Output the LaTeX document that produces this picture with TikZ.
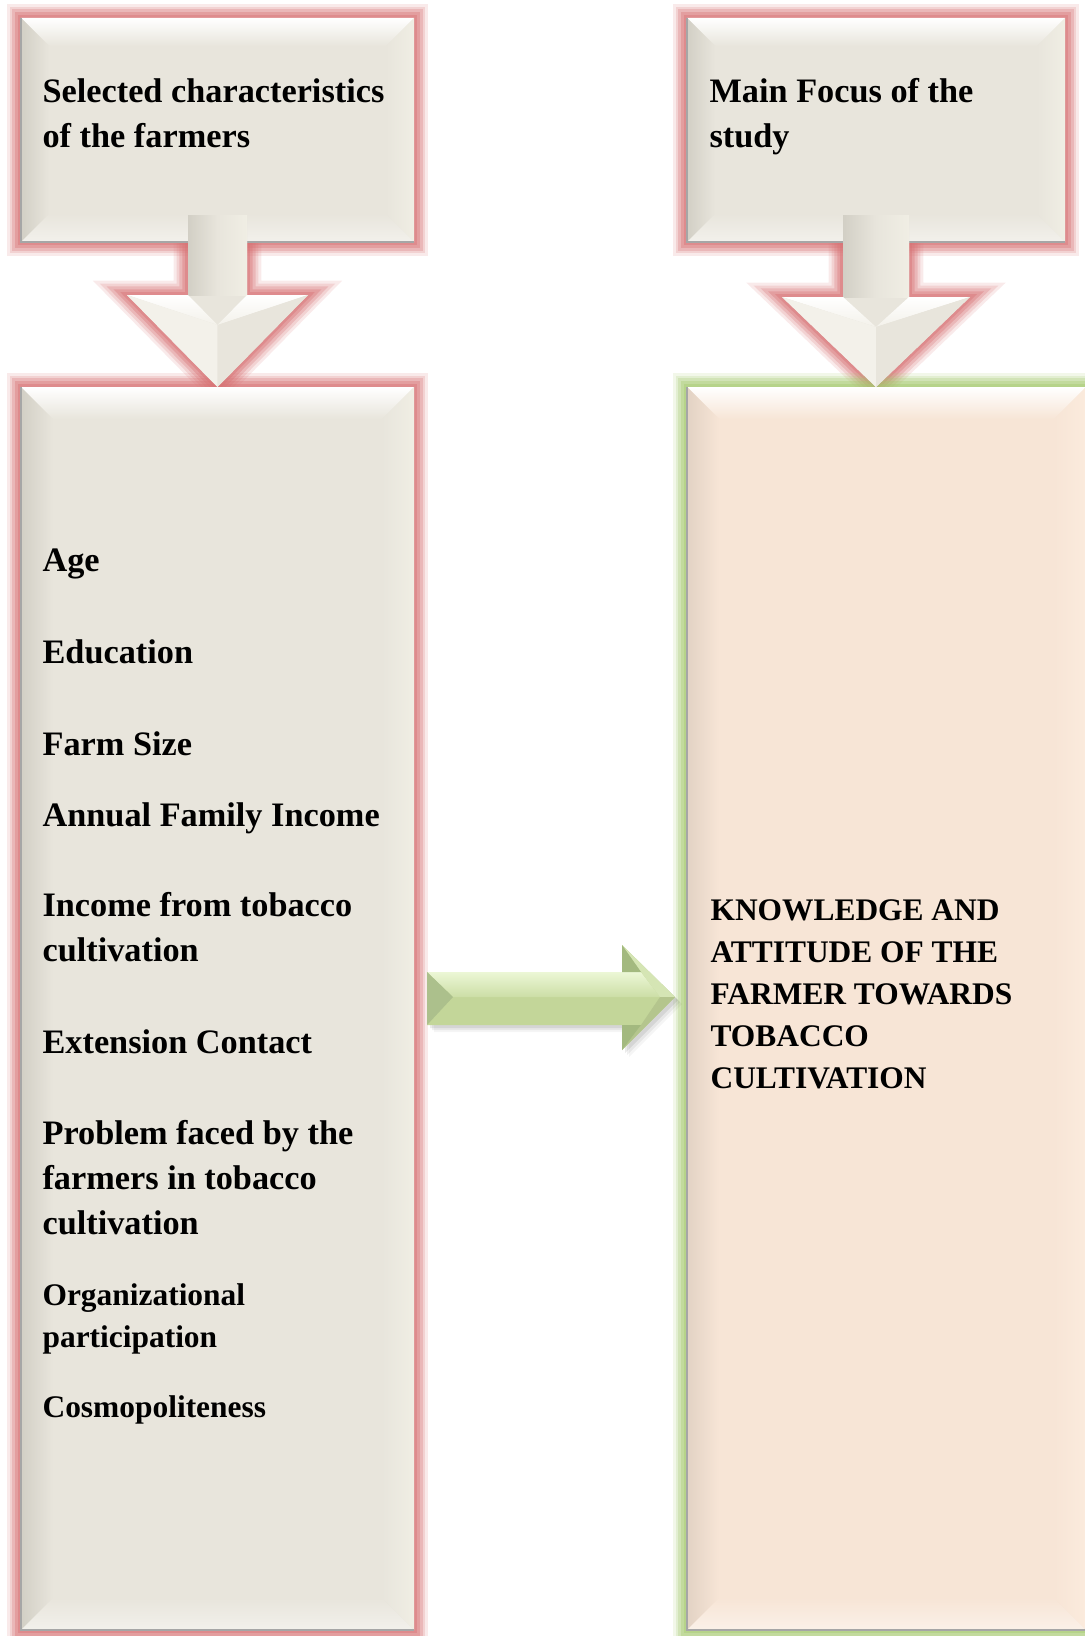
\documentclass[tikz,border=0pt]{standalone}
\usepackage{fontspec}
\setmainfont{Liberation Serif}
\usetikzlibrary{calc}

\definecolor{boxgrey}{RGB}{232,229,220}
\definecolor{bevdark}{RGB}{210,207,197}
\definecolor{bevright}{RGB}{240,238,228}
\definecolor{bevlight}{RGB}{243,241,234}
\definecolor{peach}{RGB}{247,229,214}
\definecolor{peachdark}{RGB}{226,210,196}
\definecolor{peachright}{RGB}{251,235,221}
\definecolor{glowred}{RGB}{214,112,114}
\definecolor{glowgreen}{RGB}{165,200,110}
\definecolor{leaf}{RGB}{195,214,153}
\definecolor{leaflight}{RGB}{236,247,214}
\definecolor{leafmid}{RGB}{204,222,166}
\definecolor{leaffront}{RGB}{213,229,180}
\definecolor{leafdark}{RGB}{163,185,127}

\tikzset{
  glow/.style={line join=round,
    preaction={draw=#1, line width=10pt, draw opacity=.15},
    preaction={draw=#1, line width=8pt, draw opacity=.2},
    preaction={draw=#1, line width=6pt, draw opacity=.28},
    preaction={draw=#1, line width=4pt, draw opacity=.35},
    preaction={draw=#1, line width=2pt, draw opacity=.4}},
  redglow/.style={glow=glowred},
  greenglow/.style={glow=glowgreen},
  item/.style={anchor=base west, inner sep=0pt,
    font=\fontsize{12}{15.75}\selectfont\bfseries},
  small/.style={item, font=\fontsize{11}{15}\selectfont\bfseries},
  result/.style={item, font=\fontsize{11}{14.7}\selectfont\bfseries},
}

% lines of a label, baseline on the first one
\newcommand{\lines}[1]{\begin{tabular}[t]{@{}l@{}}#1\end{tabular}}

% bevelled panel: x0, y0, x1, y1, bevel, face, left bevel, right bevel, glow
\newcommand{\panel}[9]{%
  \fill[#9, #6] (#1,#2) rectangle (#3,#4);
  \shade[top color=white, bottom color=#6] (#1,#2) -- (#3,#2) -- (#3-#5,#2+#5) -- (#1+#5,#2+#5) -- cycle;
  \shade[left color=#7, right color=#6] (#1,#2) -- (#1+#5,#2+#5) -- (#1+#5,#4-#5) -- (#1,#4) -- cycle;
  \shade[left color=#6, right color=#8] (#3,#2) -- (#3-#5,#2+#5) -- (#3-#5,#4-#5) -- (#3,#4) -- cycle;
  \shade[top color=#6, bottom color=#6!55!white] (#1,#4) -- (#1+#5,#4-#5) -- (#3-#5,#4-#5) -- (#3,#4) -- cycle;
  \draw[black!35, line width=.4pt] (#1,#2) -- (#1,#4) -- (#3,#4);
}

% block arrow pointing down: centre, shaft top, shaft half width, head half width, head top, tip
\newcommand{\downpath}[6]{(#1-#3,#2) -- (#1-#3,#5) -- (#1-#4,#5) -- (#1,#6) -- (#1+#4,#5) -- (#1+#3,#5) -- (#1+#3,#2) -- cycle}
\newcommand{\downfaces}[6]{%
  \fill[boxgrey] \downpath{#1}{#2}{#3}{#4}{#5}{#6};
  \shade[left color=bevdark, right color=boxgrey] (#1-#3,#2) -- (#1,#2) -- (#1,#5) -- (#1-#3,#5) -- cycle;
  \shade[left color=boxgrey, right color=bevright] (#1,#2) -- (#1+#3,#2) -- (#1+#3,#5) -- (#1,#5) -- cycle;
  \shade[top color=white, bottom color=bevlight] (#1-#4,#5) -- (#1-#3,#5) -- (#1,#5+30) -- cycle;
  \shade[top color=white, bottom color=bevlight] (#1+#4,#5) -- (#1+#3,#5) -- (#1,#5+30) -- cycle;
  \fill[bevlight] (#1-#4,#5) -- (#1,#5+30) -- (#1,#6) -- cycle;
  \fill[boxgrey] (#1+#4,#5) -- (#1,#5+30) -- (#1,#6) -- cycle;
}

\begin{document}
\begin{tikzpicture}[x=0.35pt, y=-0.35pt]
  \useasboundingbox (0,0) rectangle (1084,1636);

  % glow round the two down arrows, under the panels
  \path[redglow] \downpath{217.5}{215}{29.5}{90.5}{295}{387};
  \path[redglow] \downpath{876}{215}{33}{94}{297}{387};

  % panels
  \panel{21}{18}{414}{242}{28}{boxgrey}{bevdark}{bevright}{redglow}
  \panel{687}{18}{1065}{242}{28}{boxgrey}{bevdark}{bevright}{redglow}
  \panel{21}{387}{414}{1630}{32}{boxgrey}{bevdark}{bevright}{redglow}
  \panel{687}{387}{1086}{1630}{32}{peach}{peachdark}{peachright}{greenglow}

  % down arrows
  \downfaces{217.5}{215}{29.5}{90.5}{295}{387}
  \downfaces{876}{215}{33}{94}{297}{387}

  % arrow between the columns, with its shadow
  \foreach \s/\o in {7/.04,5/.06,3/.08}
    \fill[black, opacity=\o, shift={(\s,\s)}] (427,972) -- (622,972) -- (622,945) -- (675,997) -- (622,1050) -- (622,1025) -- (427,1025) -- cycle;
  \fill[leaf] (427,972) -- (622,972) -- (622,945) -- (675,997) -- (622,1050) -- (622,1025) -- (427,1025) -- cycle;
  \shade[top color=leaflight, bottom color=leafmid] (427,972) -- (641,972) -- (660,997) -- (453,997) -- cycle;
  \fill[leaffront] (622,945) -- (675,997) -- (660,997) -- (641,972) -- cycle;
  \fill[leaf!92!black] (622,1050) -- (675,997) -- (660,997) -- (641,1025) -- cycle;
  \fill[leafdark] (622,945) -- (641,972) -- (622,972) -- cycle;
  \fill[leafdark] (622,1050) -- (641,1025) -- (622,1025) -- cycle;
  \fill[leafdark!90!white] (427,972) -- (453,997) -- (427,1025) -- cycle;

  % headings
  \node[item] (chars) at (42,103) {\lines{Selected characteristics\\of the farmers}};
  \node[item] (focus) at (709,103) {\lines{Main Focus of the\\study}};

  % characteristics
  \node[item] (age) at (42,571) {Age};
  \node[item] (edu) at (42,663) {Education};
  \node[item] (farm) at (42,755) {Farm Size};
  \node[item] (income) at (42,826) {Annual Family Income};
  \node[item] (tobinc) at (42,916) {\lines{Income from tobacco\\cultivation}};
  \node[item] (ext) at (42,1053) {Extension Contact};
  \node[item] (prob) at (42,1144) {\lines{Problem faced by the\\farmers in tobacco\\cultivation}};
  \node[small] (org) at (42,1305) {\lines{Organizational\\participation}};
  \node[small] (cosmo) at (42,1417) {Cosmopoliteness};

  % focus of the study
  \node[result] (know) at (710,920) {\lines{KNOWLEDGE AND\\ATTITUDE OF THE\\FARMER TOWARDS\\TOBACCO\\CULTIVATION}};
\end{tikzpicture}
\end{document}
